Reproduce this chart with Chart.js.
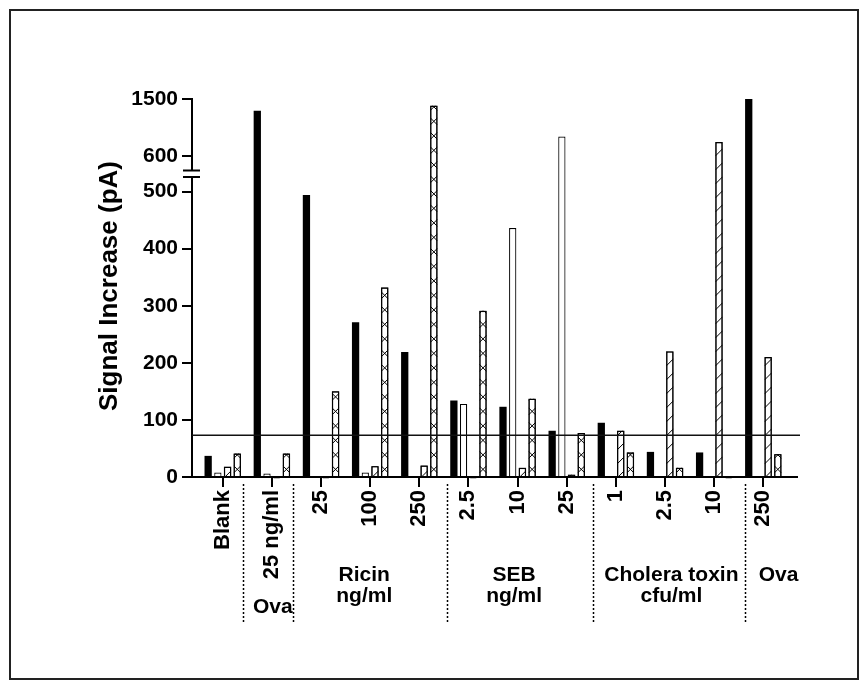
<!DOCTYPE html>
<html><head><meta charset="utf-8">
<script src="https://cdn.jsdelivr.net/npm/chart.js@4"></script>
<style>html,body{margin:0;padding:0;background:#fff;}canvas{display:block;}</style>
</head><body>
<canvas id="c" width="867" height="688"></canvas>
<script>
// ---- data ----
const categories = ['Blank','25 ng/ml','25','100','250','2.5','10','25','1','2.5','10','250'];
const blackSeries = [37, 1317, 494, 271, 219, 134, 123, 81, 95, 44, 43, 1500];
const whiteSeries = [8, 6, null, 8, null, 128, 436, 913, null, null, null, null];
const hatchSeries = [18, null, null, 19, 20, null, 16, 4, 81, 220, 826, 210];
const crossSeries = [41, 41, 150, 332, 1395, 291, 137, 77, 43, 16, null, 40];
const yTickValues = [0, 100, 200, 300, 400, 500, 600, 1500];
const yTickLabels = ['0', '100', '200', '300', '400', '500', '600', '1500'];
const thresholdValue = 73;
const groupNames = [['Ova'], ['Ricin', 'ng/ml'], ['SEB', 'ng/ml'], ['Cholera toxin', 'cfu/ml'], ['Ova']];
const groupCenters = [1.02, 2.88, 5.93, 9.13, 11.31];
const groupLowered = [true, false, false, false, false];
const separatorsAt = [0.42, 1.44, 4.56, 7.53, 10.63];
const yTitle = 'Signal Increase (pA)';

// ---- broken axis transform ----
const LOWER_MAX = 530, UPPER_REF = 600, UPPER_REF_POS = 561.4, UPPER_SCALE = 0.1119;
function toDisplay(v) {
  if (v === null || v === undefined) return null;
  return v <= LOWER_MAX ? v : UPPER_REF_POS + (v - UPPER_REF) * UPPER_SCALE;
}
const BREAK_LOW = 525.3, BREAK_HIGH = 536.9;

const FONT = "'Liberation Sans', Arial, sans-serif";
const pts = arr => arr.map((v, i) => ({ x: i, y: toDisplay(v) }));

const decor = {
  id: 'decor',
  afterDatasetsDraw(chart) {
    const ctx = chart.ctx;
    const ys = chart.scales.y;
    const ca = chart.chartArea;
    [2, 3].forEach(di => {
      const meta = chart.getDatasetMeta(di);
      meta.data.forEach(el => {
        const p = el.getProps(['x', 'y', 'base', 'width'], true);
        if (p.y == null || isNaN(p.y)) return;
        const l = p.x - p.width / 2, r = p.x + p.width / 2, w = p.width;
        const top = Math.min(p.y, p.base), bot = Math.max(p.y, p.base);
        ctx.save();
        ctx.beginPath(); ctx.rect(l, top, w, bot - top); ctx.clip();
        ctx.strokeStyle = '#000'; ctx.lineWidth = 1;
        ctx.beginPath();
        if (di === 2) {
          for (let yy = bot + 2; yy > top - w; yy -= 14) { ctx.moveTo(l, yy); ctx.lineTo(r, yy - w); }
        } else {
          for (let yy = bot - 3; yy > top - w; yy -= 14.5) {
            ctx.moveTo(l, yy); ctx.lineTo(r, yy - w);
            ctx.moveTo(r, yy); ctx.lineTo(l, yy - w);
          }
        }
        ctx.stroke();
        ctx.restore();
        ctx.save();
        ctx.strokeStyle = '#000'; ctx.lineWidth = 1.2;
        ctx.strokeRect(l + 0.6, top + 0.6, w - 1.2, bot - top);
        ctx.restore();
      });
    });
    const ty = ys.getPixelForValue(toDisplay(thresholdValue));
    ctx.save();
    ctx.strokeStyle = '#111'; ctx.lineWidth = 1.5;
    ctx.beginPath(); ctx.moveTo(ca.left, ty); ctx.lineTo(ca.right + 3, ty); ctx.stroke();
    ctx.restore();
  },
  afterDraw(chart) {
    const ctx = chart.ctx;
    const xs = chart.scales.x, ys = chart.scales.y;
    const ca = chart.chartArea;
    // axis break
    const b1 = ys.getPixelForValue(BREAK_LOW), b2 = ys.getPixelForValue(BREAK_HIGH);
    ctx.save();
    ctx.fillStyle = '#fff';
    ctx.fillRect(ca.left - 3, b2, 6, b1 - b2);
    ctx.strokeStyle = '#000'; ctx.lineWidth = 2;
    ctx.beginPath();
    ctx.moveTo(ca.left - 9, b1); ctx.lineTo(ca.left + 8, b1);
    ctx.moveTo(ca.left - 9, b2); ctx.lineTo(ca.left + 8, b2);
    ctx.stroke();
    ctx.restore();
    // dotted separators
    ctx.save();
    ctx.strokeStyle = '#000'; ctx.lineWidth = 1.5; ctx.setLineDash([2, 2]);
    separatorsAt.forEach(s => {
      const px = Math.round(xs.getPixelForValue(s)) + 0.5;
      ctx.beginPath(); ctx.moveTo(px, ca.bottom + 7); ctx.lineTo(px, ca.bottom + 147); ctx.stroke();
    });
    ctx.restore();
    // group labels
    ctx.save();
    ctx.fillStyle = '#000'; ctx.font = 'bold 21px ' + FONT;
    ctx.textAlign = 'center'; ctx.textBaseline = 'alphabetic';
    groupNames.forEach((lines, gi) => {
      const px = xs.getPixelForValue(groupCenters[gi]);
      const startY = groupLowered[gi] ? ca.bottom + 136 : ca.bottom + 104;
      lines.forEach((t, li) => ctx.fillText(t, px, startY + li * 21));
    });
    ctx.restore();
    // y title
    ctx.save();
    ctx.fillStyle = '#000'; ctx.font = 'bold 26px ' + FONT;
    ctx.textAlign = 'center'; ctx.textBaseline = 'middle';
    ctx.translate(110, (ca.top + ca.bottom) / 2 - 2); ctx.rotate(-Math.PI / 2);
    ctx.fillText(yTitle, 0, 0);
    ctx.restore();
    // frame
    ctx.save();
    ctx.strokeStyle = '#222'; ctx.lineWidth = 2;
    ctx.strokeRect(10, 10, 848, 669);
    ctx.restore();
  }
};

new Chart(document.getElementById('c'), {
  type: 'bar',
  data: {
    datasets: [
      { label: 'black', data: pts(blackSeries), backgroundColor: '#000', borderColor: '#000', borderWidth: 0 },
      { label: 'open', data: pts(whiteSeries), backgroundColor: '#fff', borderColor: '#000', borderWidth: 1.2 },
      { label: 'hatched', data: pts(hatchSeries), backgroundColor: '#fff', borderColor: '#000', borderWidth: 1.2 },
      { label: 'cross', data: pts(crossSeries), backgroundColor: '#fff', borderColor: '#000', borderWidth: 1.2 }
    ]
  },
  options: {
    responsive: false,
    animation: false,
    devicePixelRatio: 1,
    categoryPercentage: 0.79,
    barPercentage: 0.75,
    layout: { padding: { left: 0, right: 70, top: 99, bottom: 0 } },
    plugins: { legend: { display: false }, tooltip: { enabled: false } },
    scales: {
      x: {
        type: 'linear', min: -0.625, max: 11.686, offset: false,
        afterBuildTicks: s => { s.ticks = categories.map((_, i) => ({ value: i })); },
        afterFit: s => { s.height = 211; },
        ticks: { autoSkip: false, minRotation: 90, maxRotation: 90, padding: 3, color: '#000',
          font: { family: FONT, size: 22, weight: 'bold' },
          callback: v => categories[v] },
        grid: { offset: false, drawOnChartArea: false, drawTicks: true, tickLength: 10, color: '#000', lineWidth: 2 },
        border: { color: '#000', width: 2 }
      },
      y: {
        type: 'linear', min: 0, max: toDisplay(1500),
        afterBuildTicks: s => { s.ticks = yTickValues.map(v => ({ value: toDisplay(v) })); },
        afterFit: s => { s.width = 192; },
        ticks: { padding: 4, color: '#000', font: { family: FONT, size: 21, weight: 'bold' },
          callback: (v, i) => yTickLabels[i] },
        grid: { drawOnChartArea: false, drawTicks: true, tickLength: 10, color: '#000', lineWidth: 2 },
        border: { color: '#000', width: 2 }
      }
    }
  },
  plugins: [decor]
});
</script>
</body></html>
